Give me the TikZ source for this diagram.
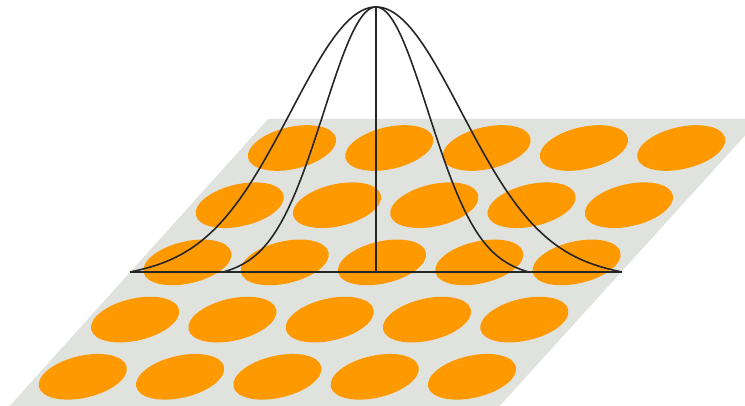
\documentclass[tikz,border=0pt]{standalone}
\usepackage{tikz}
\definecolor{planegray}{HTML}{E0E2DE}
\definecolor{spotorange}{HTML}{FF9900}
\tikzset{
  plane/.style={fill=planegray, draw=none},
  spot/.style={fill=spotorange, draw=none},
  curve/.style={draw=black!85, line width=1.6pt, line join=round},
}
\begin{document}
\begin{tikzpicture}[x=1pt,y=1pt]
\useasboundingbox (0,0) rectangle (745,406);
\clip (0,0) rectangle (745,406);
% tilted plane
\fill[plane] (268,287) -- (760,287) -- (487,-14) -- (-3,-14) -- cycle;
% orange spots
\foreach \i in {0,...,4}{
  \foreach \j in {0,...,4}{
    \pgfmathsetmacro\cx{292+97.3*\j-52.3*\i}
    \pgfmathsetmacro\cy{406-148-57.2*\i}
    \fill[spot, rotate around={13:(\cx,\cy)}] (\cx,\cy) ellipse [x radius=45pt, y radius=21pt];
  }
}
% bell curve
\coordinate (apex) at (376,399);
\coordinate (foot) at (376,134);
\coordinate (bl) at (130,134);
\coordinate (br) at (622,134);
\draw[curve] (bl) -- (br);
\draw[curve] (foot) -- (apex);
\draw[curve] plot[domain=-2.894:2.894, samples=141, smooth]
  ({376+85*\x}, {134+265*(exp(-\x*\x/2) - 0.0152*(\x*\x/8.375)^2)});
\draw[curve] plot[domain=-2.933:2.933, samples=141, smooth]
  ({376+52*\x}, {134+265*(exp(-\x*\x/2) - 0.01357*(\x*\x/8.6)^2)});
\end{tikzpicture}
\end{document}
